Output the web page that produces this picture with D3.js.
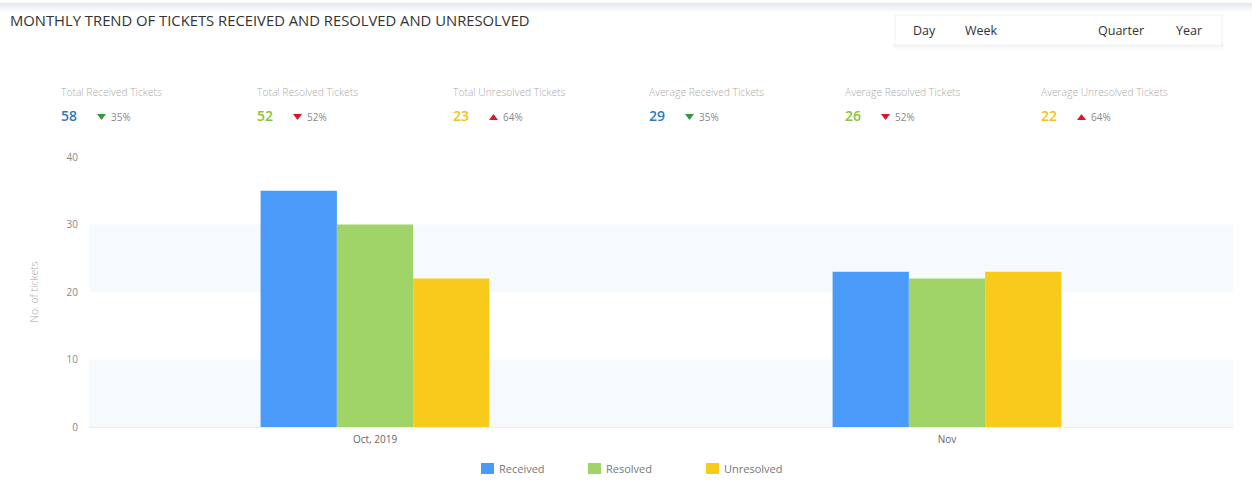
<!DOCTYPE html>
<html>
<head>
<meta charset="utf-8">
<script src="https://cdn.jsdelivr.net/npm/d3@7.9.0/dist/d3.min.js"></script>
<style>
  html, body { margin: 0; padding: 0; background: #fff; }
  svg { display: block; font-family: "Open Sans", "Noto Sans", sans-serif; }
</style>
</head>
<body>
<div id="chart"></div>
<script>
// chart data
const months = ['Oct, 2019', 'Nov'];
const seriesNames = ['Received', 'Resolved', 'Unresolved'];
const received = [35, 23];
const resolved = [30, 22];
const unresolved = [22, 23];
const yTicks = [0, 10, 20, 30, 40];

// summary stats above the chart
const statLabels = ['Total Received Tickets', 'Total Resolved Tickets', 'Total Unresolved Tickets',
  'Average Received Tickets', 'Average Resolved Tickets', 'Average Unresolved Tickets'];
const statValues = [58, 52, 23, 29, 26, 22];
const statChanges = ['35%', '52%', '64%', '35%', '52%', '64%'];
const statTrend = ['down', 'down', 'up', 'down', 'down', 'up'];

const periodButtons = ['Day', 'Week', '', 'Quarter', 'Year'];

const width = 1252;
const height = 493;
const colors = ['#4a9bf9', '#a0d468', '#f8ca1c'];
const valueColors = ['#2f78b8', '#8bbf3c', '#eec21a'];

const svg = d3.select('#chart')
  .append('svg')
  .attr('width', width)
  .attr('height', height);

// faint top border of the card
const defs = svg.append('defs');
const grad = defs.append('linearGradient').attr('id', 'topShade')
  .attr('x1', 0).attr('x2', 0).attr('y1', 0).attr('y2', 1);
grad.append('stop').attr('offset', 0).attr('stop-color', '#e4e8ef');
grad.append('stop').attr('offset', 1).attr('stop-color', '#ffffff');
svg.append('rect').attr('x', 0).attr('y', 3).attr('width', width).attr('height', 10)
  .attr('fill', 'url(#topShade)');

// title
svg.append('text')
  .attr('x', 10).attr('y', 26)
  .attr('font-size', 14.8)
  .attr('fill', '#333')
  .text('MONTHLY TREND OF TICKETS RECEIVED AND RESOLVED AND UNRESOLVED');

// period switcher
const shade = defs.append('linearGradient').attr('id', 'btnShade')
  .attr('x1', 0).attr('x2', 0).attr('y1', 0).attr('y2', 1);
shade.append('stop').attr('offset', 0).attr('stop-color', '#eef0f3');
shade.append('stop').attr('offset', 1).attr('stop-color', '#ffffff');
svg.append('rect')
  .attr('x', 893).attr('y', 44).attr('width', 331).attr('height', 6)
  .attr('fill', 'url(#btnShade)');
svg.append('rect')
  .attr('x', 895).attr('y', 15).attr('width', 327).attr('height', 30)
  .attr('fill', '#fff')
  .attr('stroke', '#f1f2f5');
const btnX = [913, 965, 1040, 1098, 1176];
svg.append('g').selectAll('text')
  .data(periodButtons)
  .join('text')
  .attr('x', (d, i) => btnX[i])
  .attr('y', 35)
  .attr('font-size', 12.5)
  .attr('fill', '#333')
  .text(d => d);

// stats row
const statX = d3.scaleLinear().domain([0, 1]).range([61, 257]);
const stats = svg.append('g').selectAll('g')
  .data(statLabels)
  .join('g')
  .attr('transform', (d, i) => `translate(${statX(i)},0)`);
stats.append('text')
  .attr('y', 96)
  .attr('font-size', 10.3)
  .attr('font-weight', 300)
  .attr('fill', '#aaa')
  .text(d => d);
stats.append('text')
  .attr('y', 121)
  .attr('font-size', 14)
  .attr('font-weight', 600)
  .attr('fill', (d, i) => valueColors[i % 3])
  .text((d, i) => statValues[i]);
stats.append('path')
  .attr('d', (d, i) => statTrend[i] === 'down'
    ? 'M36,114 L45,114 L40.5,120 Z'
    : 'M36,120 L45,120 L40.5,114 Z')
  .attr('fill', (d, i) => i % 3 === 0 ? '#2e9a3a' : '#e0132a');
stats.append('text')
  .attr('x', 50)
  .attr('y', 121)
  .attr('font-size', 10)
  .attr('fill', '#888')
  .text((d, i) => statChanges[i]);

// scales
const x = d3.scaleBand()
  .domain(months)
  .range([89, 1233])
  .paddingInner(0.6)
  .paddingOuter(0.3);
const xSub = d3.scaleBand()
  .domain(seriesNames)
  .range([0, x.bandwidth()]);
const y = d3.scaleLinear()
  .domain([0, 40])
  .range([427, 157]);

// faint background bands (20-30 and 0-10)
const bandPairs = d3.pairs(yTicks).filter((p, i) => i % 2 === 0);
svg.append('g').selectAll('rect')
  .data(bandPairs)
  .join('rect')
  .attr('x', 89)
  .attr('width', 1233 - 89)
  .attr('y', d => y(d[1]))
  .attr('height', d => y(d[0]) - y(d[1]))
  .attr('fill', '#f7fafd');

// y axis
const yAxis = svg.append('g')
  .attr('transform', 'translate(80,0)')
  .call(d3.axisLeft(y).tickValues(yTicks).tickSize(0).tickPadding(2));
yAxis.select('.domain').remove();
yAxis.selectAll('text')
  .attr('font-size', 10)
  .attr('fill', '#888')
  .attr('font-family', '"Open Sans", sans-serif');

svg.append('text')
  .attr('transform', 'translate(38,292) rotate(-90)')
  .attr('text-anchor', 'middle')
  .attr('font-size', 10.5)
  .attr('font-weight', 300)
  .attr('fill', '#aaa')
  .text('No. of tickets');

// bars
const seriesValues = [received, resolved, unresolved];
const groups = svg.append('g').selectAll('g')
  .data(months)
  .join('g')
  .attr('transform', d => `translate(${x(d)},0)`);
groups.selectAll('rect')
  .data((m, mi) => seriesNames.map((s, si) => ({ s, si, v: seriesValues[si][mi] })))
  .join('rect')
  .attr('x', d => xSub(d.s))
  .attr('width', xSub.bandwidth())
  .attr('y', d => y(d.v))
  .attr('height', d => y(0) - y(d.v))
  .attr('fill', d => colors[d.si]);

// x axis
const xAxis = svg.append('g')
  .attr('transform', `translate(0,${y(0)})`)
  .call(d3.axisBottom(x).tickSize(0).tickPadding(9));
xAxis.select('.domain').attr('stroke', '#e9ecf0');
xAxis.selectAll('text')
  .attr('font-size', 10)
  .attr('fill', '#666')
  .attr('font-family', '"Open Sans", sans-serif');

// legend
const legendX = [481, 588, 706];
const legend = svg.append('g').selectAll('g')
  .data(seriesNames)
  .join('g')
  .attr('transform', (d, i) => `translate(${legendX[i]},463)`);
legend.append('rect')
  .attr('width', 13).attr('height', 11)
  .attr('fill', (d, i) => colors[i]);
legend.append('text')
  .attr('x', 18).attr('y', 10)
  .attr('font-size', 11)
  .attr('fill', '#777')
  .text(d => d);
</script>
</body>
</html>
